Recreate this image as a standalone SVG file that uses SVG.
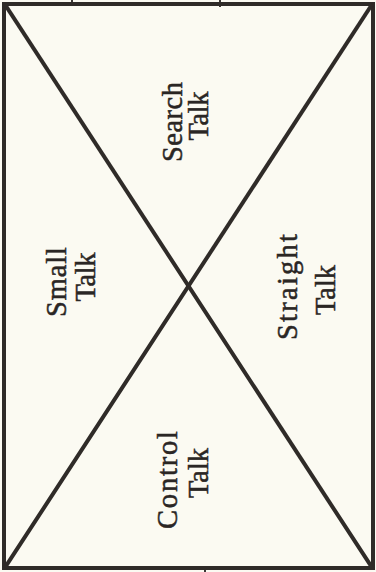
<svg xmlns="http://www.w3.org/2000/svg" width="376" height="572" viewBox="0 0 376 572">
<style>
.ln{stroke:#2f2b28;stroke-width:4;fill:none;stroke-linecap:square}
.tk{stroke:#3a3634;stroke-width:2;fill:none}
.lb{font-family:"Liberation Serif","DejaVu Serif",serif;font-size:28.5px;fill:#2a2624;stroke:#2a2624;stroke-width:0.5;text-anchor:middle}
</style>
<rect x="0" y="0" width="376" height="572" fill="#fbfaf2"/>
<g id="fragments">
<line class="tk" x1="72" y1="0" x2="72" y2="4"/>
<line class="tk" x1="220" y1="0" x2="220" y2="7"/>
<line class="tk" x1="205" y1="569" x2="205" y2="572"/>
</g>
<g id="connectors">
<rect class="ln" x="4" y="4" width="369" height="564"/>
<line class="ln" x1="6" y1="6" x2="371" y2="566"/>
<line class="ln" x1="371" y1="6" x2="6" y2="566"/>
</g>
<g id="search">
<text class="lb" transform="translate(182,122) rotate(-90)" textLength="80" lengthAdjust="spacing">Search</text>
<text class="lb" transform="translate(208,116) rotate(-90)" textLength="49" lengthAdjust="spacing">Talk</text>
</g>
<g id="small">
<text class="lb" transform="translate(66,282) rotate(-90)" textLength="70" lengthAdjust="spacing">Small</text>
<text class="lb" transform="translate(95,277) rotate(-90)" textLength="49" lengthAdjust="spacing">Talk</text>
</g>
<g id="straight">
<text class="lb" transform="translate(297,287) rotate(-90)" textLength="106" lengthAdjust="spacing">Straight</text>
<text class="lb" transform="translate(335,290) rotate(-90)" textLength="50" lengthAdjust="spacing">Talk</text>
</g>
<g id="control">
<text class="lb" transform="translate(177,480) rotate(-90)" textLength="98" lengthAdjust="spacing">Control</text>
<text class="lb" transform="translate(208,473) rotate(-90)" textLength="50" lengthAdjust="spacing">Talk</text>
</g>
</svg>
